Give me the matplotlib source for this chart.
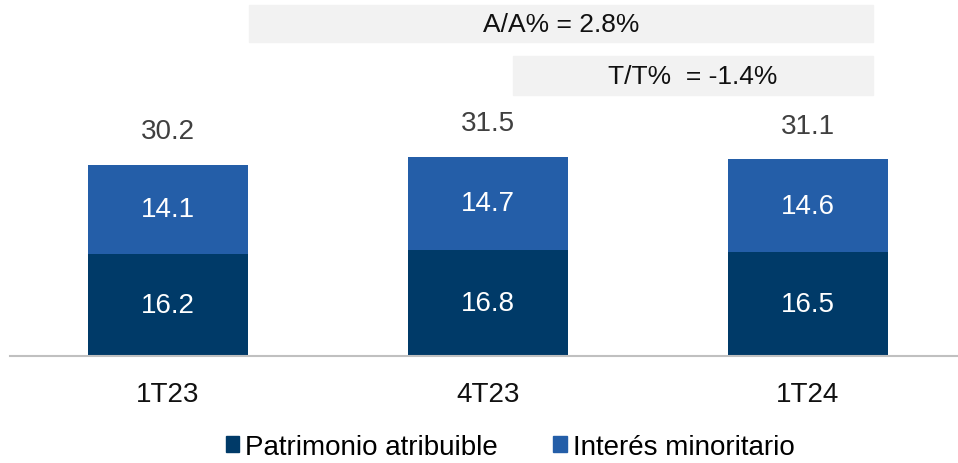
import matplotlib
matplotlib.use("Agg")
import matplotlib.pyplot as plt
from matplotlib.patches import Rectangle, Patch

plt.rcParams['font.family'] = ['Liberation Sans', 'DejaVu Sans']

# data
categories = ["1T23", "4T23", "1T24"]
patrimonio = [16.2, 16.8, 16.5]
minoritario = [14.1, 14.7, 14.6]
totals = [30.2, 31.5, 31.1]
series_names = ["Patrimonio atribuible", "Interés minoritario"]
yoy_label = "A/A% = 2.8%"
qoq_label = "T/T%  = -1.4%"

DARK = "#003a68"
LIGHT = "#245ea8"
W, H = 958, 464


def fx(px):
    return px / W


def fy(py):
    return 1 - py / H


def main():
    fig = plt.figure(figsize=(W / 100, H / 100), dpi=100)
    ax = fig.add_axes([fx(10), fy(357), fx(948), 357 / H])

    x = list(range(len(categories)))
    ax.bar(x, patrimonio, width=0.5, color=DARK, zorder=2)
    ax.bar(x, minoritario, width=0.5, bottom=patrimonio, color=LIGHT, zorder=2)

    for i in x:
        ax.text(i, patrimonio[i] / 2, f"{patrimonio[i]:.1f}", ha="center", va="center",
                color="white", fontsize=20)
        ax.text(i, patrimonio[i] + minoritario[i] / 2, f"{minoritario[i]:.1f}",
                ha="center", va="center", color="white", fontsize=20)
        ax.annotate(f"{totals[i]:.1f}", (i, patrimonio[i] + minoritario[i]),
                    xytext=(0, 15), textcoords="offset points", ha="center",
                    va="bottom", color="#404040", fontsize=20)

    ax.set_xlim(-0.494, 2.469)
    ax.set_ylim(0, 56.5)
    ax.set_xticks(x)
    ax.set_xticklabels(categories, fontsize=20, color="#111111")
    ax.tick_params(axis="x", length=0, pad=18)
    ax.set_yticks([])
    for side in ["top", "right", "left"]:
        ax.spines[side].set_visible(False)
    ax.spines["bottom"].set_color("#c0c0c0")
    ax.spines["bottom"].set_linewidth(1.5)
    ax.patch.set_visible(False)

    # growth boxes
    fig.patches.append(Rectangle((fx(249), fy(43)), fx(873 - 249), (43 - 6) / H,
                                 transform=fig.transFigure, color="#f2f2f2", zorder=0))
    fig.patches.append(Rectangle((fx(513), fy(96)), fx(873 - 513), (96 - 57) / H,
                                 transform=fig.transFigure, color="#f2f2f2", zorder=0))
    fig.text(fx(561), fy(25), yoy_label, ha="center", va="center", fontsize=19, color="#111111")
    fig.text(fx(693), fy(77), qoq_label, ha="center", va="center", fontsize=19, color="#111111")

    handles = [Patch(color=DARK), Patch(color=LIGHT)]
    fig.legend(handles, series_names, loc="center", bbox_to_anchor=(fx(510), fy(448)),
               ncol=2, frameon=False, fontsize=20, handlelength=0.5, handleheight=0.5,
               handletextpad=0.2, columnspacing=2.0, borderpad=0)

    fig.savefig("out.png", dpi=100)


if __name__ == "__main__":
    main()
